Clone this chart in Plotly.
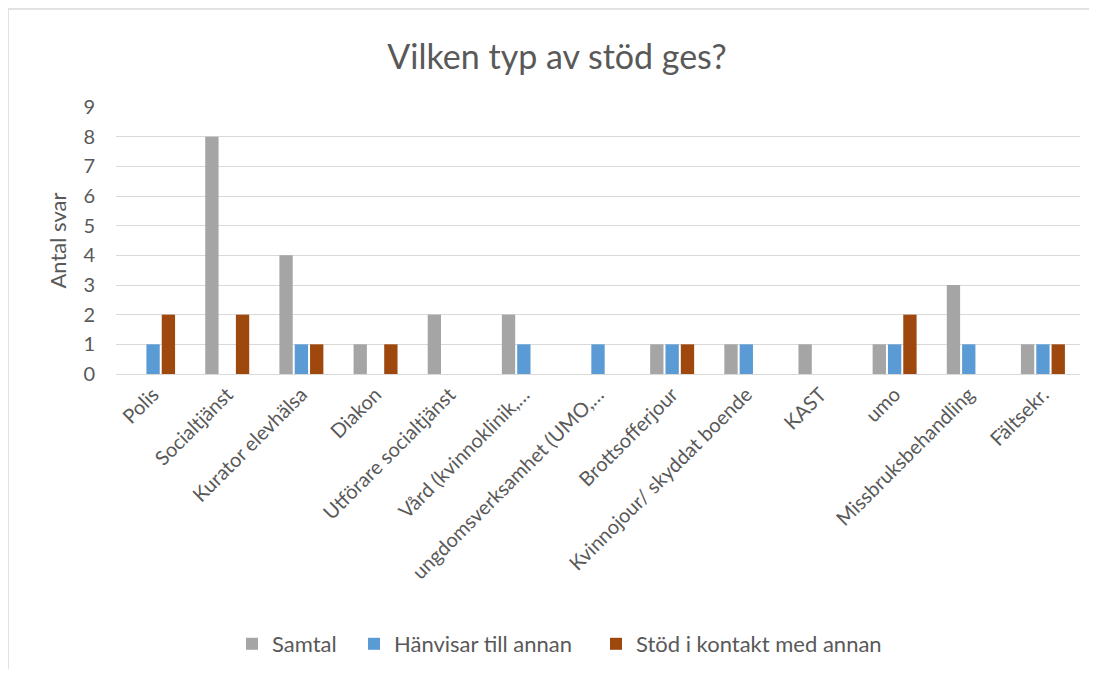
import plotly.graph_objects as go

categories = ["Polis", "Socialtjänst", "Kurator elevhälsa", "Diakon", "Utförare socialtjänst",
              "Vård (kvinnoklinik,…", "ungdomsverksamhet (UMO,…", "Brottsofferjour",
              "Kvinnojour/ skyddat boende", "KAST", "umo", "Missbruksbehandling", "Fältsekr."]
samtal = [0, 8, 4, 1, 2, 2, 0, 1, 1, 1, 1, 3, 1]
hanvisar = [1, 0, 1, 0, 0, 1, 1, 1, 1, 0, 1, 1, 1]
stod = [2, 2, 1, 1, 0, 0, 0, 1, 0, 0, 2, 0, 1]
series_names = ["Samtal", "Hänvisar till annan", "Stöd i kontakt med annan"]
colors = ["#A5A5A5", "#5B9BD5", "#9E480E"]

FONT = "Lato"
TXT = "#595959"
W, H = 1089, 661
L, R, T, B = 108, 17, 99, 295
PW, PH = W - L - R, H - T - B

legend_ids = ["legend", "legend2", "legend3"]
legend_marker_x = [238, 360, 602]  # marker left edge in figure px

fig = go.Figure()
for name, vals, c, lid in zip(series_names, [samtal, hanvisar, stod], colors, legend_ids):
    fig.add_trace(go.Bar(name=name, x=categories, y=vals, legend=lid, showlegend=True,
                         marker=dict(color=c, line=dict(width=0))))

leg_common = dict(orientation="h", yanchor="middle", y=(PH - (636 - T)) / PH, xanchor="left",
                  font=dict(family=FONT, size=22, color=TXT), itemwidth=30, bgcolor="rgba(0,0,0,0)")
legends = {}
for lid, mx in zip(legend_ids, legend_marker_x):
    legends[lid] = dict(leg_common, x=(mx - 14 - L) / PW)

fig.update_layout(
    width=W, height=H, showlegend=True,
    paper_bgcolor="white", plot_bgcolor="white",
    barmode="group", bargap=0.38, bargroupgap=0.13,
    margin=dict(l=L, r=R, t=T, b=B, autoexpand=False),
    title=dict(text="Vilken typ av stöd ges?", x=(557 - 8) / W, xanchor="center", y=1 - 49 / H, yanchor="middle",
               font=dict(family=FONT, size=34, color=TXT)),
    font=dict(family=FONT, color=TXT),
    xaxis=dict(tickangle=-45, automargin=False, tickfont=dict(family=FONT, size=20, color=TXT),
               showline=True, linecolor="#D9D9D9", linewidth=1, ticks=""),
    yaxis=dict(range=[0, 9], dtick=1, automargin=False, showgrid=True, gridcolor="#D9D9D9", gridwidth=1,
               zeroline=False, tickfont=dict(family=FONT, size=20, color=TXT),
               title=dict(text="Antal svar", font=dict(family=FONT, size=22, color=TXT), standoff=10),
               ticks="", ticklabelstandoff=20),
    shapes=[dict(type="rect", xref="paper", yref="paper",
                 x0=(0 - L) / PW, x1=(1088 - L) / PW, y0=(PH - (H + 20 - T)) / PH, y1=(PH + T - 1) / PH,
                 line=dict(color="#D9D9D9", width=1.5), fillcolor="rgba(0,0,0,0)", layer="below")],
    **legends,
)
fig.write_html("out.html")
